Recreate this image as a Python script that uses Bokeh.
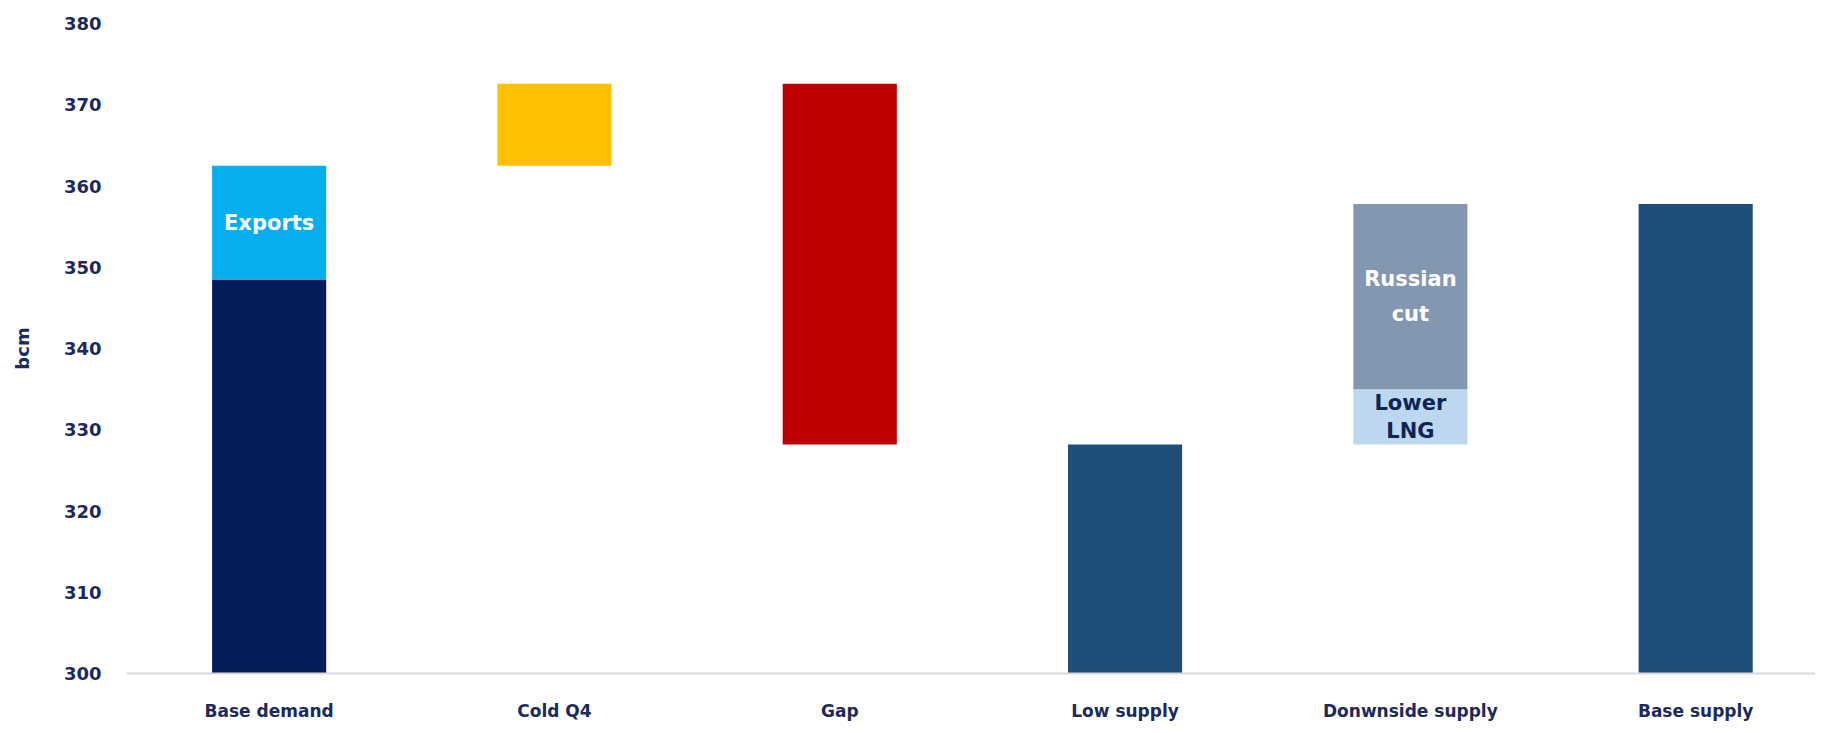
from bokeh.plotting import figure
from bokeh.models import ColumnDataSource, Range1d, FixedTicker, SingleIntervalTicker
from bokeh.core.properties import value
from bokeh.embed import file_html
from bokeh.resources import INLINE

# ---- data ----
categories = ["Base demand", "Cold Q4", "Gap", "Low supply", "Donwnside supply", "Base supply"]

seg_category = ["Base demand", "Base demand", "Cold Q4", "Gap", "Low supply",
                "Donwnside supply", "Donwnside supply", "Base supply"]
seg_bottom = [300.0, 348.5, 362.5, 328.2, 300.0, 328.2, 335.0, 300.0]
seg_top = [348.5, 362.5, 372.6, 372.6, 328.2, 335.0, 357.8, 357.8]
seg_label = ["", "Exports", "", "", "", "Lower\nLNG", "Russian\ncut", ""]

# ---- styles ----
seg_colors = ["#031E5B", "#07AEEE", "#FFC000", "#C00000", "#1F4E79",
              "#BDD7EE", "#8497B0", "#1F4E79"]
label_colors = ["#FFFFFF", "#FFFFFF", "#FFFFFF", "#FFFFFF", "#FFFFFF",
                "#0E2455", "#FFFFFF", "#FFFFFF"]
NAVY = "#1B2A5C"
FONT = "DejaVu Sans"

xs = [categories.index(c) for c in seg_category]
src = ColumnDataSource(dict(
    x=xs, bottom=seg_bottom, top=seg_top, color=seg_colors,
))

p = figure(width=1815, height=723, output_backend="svg", toolbar_location=None,
           x_range=Range1d(-0.5, 5.42), y_range=Range1d(300, 380),
           min_border_left=126, min_border_right=0, min_border_top=23, min_border_bottom=41)
p.outline_line_color = None
p.background_fill_color = "white"
p.border_fill_color = "white"
p.xgrid.visible = False
p.ygrid.visible = False

p.vbar(x="x", width=0.4, bottom="bottom", top="top", fill_color="color",
       line_color=None, source=src)

# labels inside bars
white_idx = [i for i, l in enumerate(seg_label) if l and label_colors[i] == "#FFFFFF"]
navy_idx = [i for i, l in enumerate(seg_label) if l and label_colors[i] != "#FFFFFF"]
for idx, lh in ((white_idx, 1.45), (navy_idx, 1.15)):
    s = ColumnDataSource(dict(
        x=[xs[i] for i in idx],
        y=[(seg_bottom[i] + seg_top[i]) / 2 for i in idx],
        t=[seg_label[i] for i in idx],
        c=[label_colors[i] for i in idx],
    ))
    p.text(x="x", y="y", text="t", text_color="c", source=s,
           text_align="center", text_baseline="middle",
           text_font=value(FONT), text_font_style="bold",
           text_font_size="21px", text_line_height=lh)

# x axis
xa = p.xaxis[0]
xa.ticker = FixedTicker(ticks=list(range(len(categories))))
xa.major_label_overrides = {i: c for i, c in enumerate(categories)}
xa.major_tick_line_color = None
xa.minor_tick_line_color = None
xa.major_tick_out = 0
xa.major_tick_in = 0
xa.axis_line_color = "#D9D9D9"
xa.axis_line_width = 2
xa.major_label_standoff = 27
xa.major_label_text_font = FONT
xa.major_label_text_font_style = "bold"
xa.major_label_text_font_size = "17px"
xa.major_label_text_color = NAVY

# y axis
ya = p.yaxis[0]
ya.ticker = SingleIntervalTicker(interval=10)
ya.axis_line_color = None
ya.major_tick_line_color = None
ya.minor_tick_line_color = None
ya.major_tick_out = 0
ya.major_tick_in = 0
ya.major_label_standoff = 21
ya.major_label_text_font = FONT
ya.major_label_text_font_style = "bold"
ya.major_label_text_font_size = "18px"
ya.major_label_text_color = NAVY
ya.axis_label = "bcm"
ya.axis_label_standoff = 28
ya.axis_label_text_font = FONT
ya.axis_label_text_font_style = "bold"
ya.axis_label_text_font_size = "18px"
ya.axis_label_text_color = NAVY

open("out.html", "w").write(file_html(p, INLINE))
